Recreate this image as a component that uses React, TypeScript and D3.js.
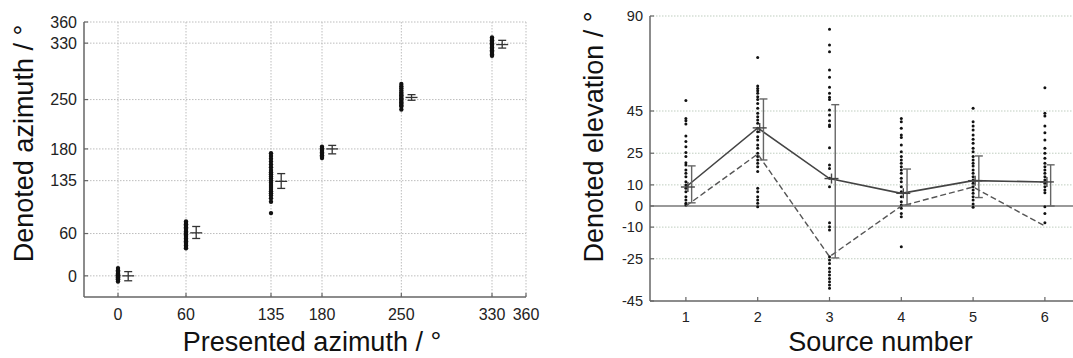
import React from "react";
import * as d3 from "d3";

// ---------- Left chart data (azimuth) ----------
const azTicks = [0, 60, 135, 180, 250, 330, 360];
const azPresented = [0, 60, 135, 180, 250, 330];
const azResponses: number[][] = [
  [11, 8, 6, 4, 3, 2, 1, 0, 0, -1, -2, -3, -4, -5, -6, -8],
  [77, 75, 73, 71, 69, 67, 65, 63, 61, 59, 57, 55, 53, 51, 49, 47, 45, 43, 41, 39],
  [174, 170, 166, 162, 158, 154, 150, 147, 144, 141, 138, 135, 132, 129, 126, 123, 120, 117, 114, 110, 105, 89],
  [183, 181, 179, 177, 175, 173, 171, 169, 167],
  [272, 269, 266, 263, 260, 258, 256, 254, 252, 250, 248, 246, 244, 242, 240, 236],
  [338, 336, 334, 332, 330, 328, 326, 324, 322, 320, 318, 316, 314, 312],
];
const azMean = [0, 61, 134, 180, 253, 328];
const azLo = [-7, 53, 124, 173, 249, 323];
const azHi = [6, 70, 145, 185, 257, 334];

// ---------- Right chart data (elevation) ----------
const sources = [1, 2, 3, 4, 5, 6];
const elTicks = [90, 45, 25, 10, 0, -10, -25, -45];
const elResponses: number[][] = [
  [50, 41.5, 40.4, 38.8, 33.2, 30.5, 28.1, 25.3, 23.4, 20.5, 19.4, 17, 15.5, 13.9, 11.5, 9.9, 8.4, 6.8, 4.4, 2.8, 1.3, 0.5],
  [70.4, 56.8, 55.7, 54.6, 53.4, 51.8, 50.5, 48.6, 46.3, 43.9, 42.3, 40.7, 39.2, 36.8, 35.2, 32.8, 31.3, 28.9, 27.3, 25, 23.4, 21.8, 20.2, 18.6, 16.3, 8.4, 6.8, 4.4, 2.8, 1.3, -0.3],
  [83.7, 76.3, 73.1, 64.4, 61, 56.2, 53.4, 51.5, 50.5, 45.5, 43.1, 40.4, 38.4, 37.6, 27.6, 19.4, 17.8, 13.1, 9.1, -7.9, -9.8, -11.4, -24, -25.6, -27.2, -29.5, -31.1, -32.7, -34.3, -35.9, -37.4, -39],
  [41.5, 39.9, 36.8, 33.6, 32.5, 28.9, 25.7, 23.4, 21.8, 20.2, 18.6, 17.1, 15.5, 13.1, 11.5, 9.1, 6.8, 4.4, 2, 0.5, -1.1, -3.5, -5.1, -19.3],
  [46.3, 39.9, 37.9, 36, 33.6, 31.6, 29.7, 27.3, 25.7, 23.4, 21.8, 20.2, 18.9, 17.1, 15.5, 13.9, 12.3, 10.8, 9.1, 7.6, 6, 4.4, 2.8, 0.9, -0.6],
  [56, 43.9, 42.6, 37.9, 34.7, 31.3, 27.3, 25, 22.6, 20.2, 18.6, 17.1, 15.5, 13.9, 12.3, 10.8, 9.1, 7.6, 6.3, -0.3, -3.5, -7.9],
];
const elMean = [9, 37, 13, 6, 12, 11.4];
const elMedian = [0, 24.6, -24, 0, 9, -9.5];
const elLo = [1.5, 21.8, -24.6, 0.5, 4, 0];
const elHi = [19, 50.7, 48, 17.5, 23.7, 19.5];

const FONT = "'Liberation Sans', Arial, sans-serif";

export default function App() {
  // Left scales
  const lx = d3.scaleLinear().domain([-30, 360]).range([84, 526]);
  const ly = d3.scaleLinear().domain([-30, 360]).range([297, 22]);
  // Right scales
  const rx = d3.scaleLinear().domain([0.5, 6.5]).range([650, 1080.8]);
  const ry = d3.scaleLinear().domain([-45, 90]).range([301, 16]);

  const azOff = 9; // degrees offset for error bars
  const elOff = 0.08;

  const meanLine = d3
    .line<number>()
    .x((_, i) => rx(sources[i]))
    .y((d) => ry(d));

  const gridL = "#bdbdbd";
  const gridR = "#bfcdbf";
  const axisC = "#666";

  return (
    <svg
      width={1073}
      height={358}
      style={{ position: "absolute", left: 0, top: 0, background: "#fff" }}
      fontFamily={FONT}
    >
      <rect x={0} y={0} width={1073} height={358} fill="#fff" />
      {/* ================= LEFT CHART ================= */}
      <g>
        {azTicks.map((t) => (
          <line
            key={"gx" + t}
            x1={lx(t)}
            x2={lx(t)}
            y1={ly(360)}
            y2={ly(-30)}
            stroke={gridL}
            strokeWidth={1}
            strokeDasharray="1.5,1.5"
          />
        ))}
        {azTicks.map((t) => (
          <line
            key={"gy" + t}
            x1={lx(-30)}
            x2={lx(360)}
            y1={ly(t)}
            y2={ly(t)}
            stroke={gridL}
            strokeWidth={1}
            strokeDasharray="1.5,1.5"
          />
        ))}
        {/* axes */}
        <line x1={lx(-30)} x2={lx(-30)} y1={ly(360)} y2={ly(-30)} stroke={axisC} strokeWidth={1.5} />
        <line x1={lx(-30)} x2={lx(360)} y1={ly(-30)} y2={ly(-30)} stroke={axisC} strokeWidth={1.5} />
        {azTicks.map((t) => (
          <g key={"tk" + t}>
            <line x1={lx(-30)} x2={lx(-30) + 4} y1={ly(t)} y2={ly(t)} stroke={axisC} strokeWidth={1.2} />
            <line x1={lx(t)} x2={lx(t)} y1={ly(-30)} y2={ly(-30) - 4} stroke={axisC} strokeWidth={1.2} />
            <text x={77} y={ly(t)} dy="0.36em" textAnchor="end" fontSize={16} fill="#222">
              {t}
            </text>
            <text x={lx(t)} y={320} textAnchor="middle" fontSize={16} fill="#222">
              {t}
            </text>
          </g>
        ))}
        {/* responses */}
        {azResponses.map((arr, i) =>
          arr.map((v, j) => (
            <circle key={`az${i}-${j}`} cx={lx(azPresented[i])} cy={ly(v)} r={2.2} fill="#111" />
          ))
        )}
        {/* mean + error bars */}
        {azPresented.map((p, i) => {
          const x = lx(p + azOff);
          return (
            <g key={"ae" + i} stroke="#333" strokeWidth={1.3}>
              <line x1={x} x2={x} y1={ly(azLo[i])} y2={ly(azHi[i])} />
              <line x1={x - 4} x2={x + 4} y1={ly(azLo[i])} y2={ly(azLo[i])} />
              <line x1={x - 4} x2={x + 4} y1={ly(azHi[i])} y2={ly(azHi[i])} />
              <line x1={x - 6} x2={x + 6} y1={ly(azMean[i])} y2={ly(azMean[i])} />
            </g>
          );
        })}
        <text
          transform={`translate(33,143.5) rotate(-90)`}
          textAnchor="middle"
          fontSize={27}
          fill="#111"
        >
          Denoted azimuth / °
        </text>
        <text x={312} y={351} textAnchor="middle" fontSize={27} fill="#111">
          Presented azimuth / °
        </text>
      </g>

      {/* ================= RIGHT CHART ================= */}
      <g>
        {elTicks
          .filter((t) => t !== 0 && t !== -45)
          .map((t) => (
            <line
              key={"rg" + t}
              x1={rx(0.5)}
              x2={1073}
              y1={ry(t)}
              y2={ry(t)}
              stroke={gridR}
              strokeWidth={1}
              strokeDasharray="1.5,1.5"
            />
          ))}
        {/* zero line */}
        <line x1={rx(0.5)} x2={1073} y1={ry(0)} y2={ry(0)} stroke="#777" strokeWidth={1.3} />
        {/* axes */}
        <line x1={rx(0.5)} x2={rx(0.5)} y1={ry(90)} y2={ry(-45)} stroke={axisC} strokeWidth={1.5} />
        <line x1={rx(0.5)} x2={1073} y1={ry(-45)} y2={ry(-45)} stroke={axisC} strokeWidth={1.5} />
        {elTicks.map((t) => (
          <g key={"rt" + t}>
            <line x1={rx(0.5)} x2={rx(0.5) + 4} y1={ry(t)} y2={ry(t)} stroke={axisC} strokeWidth={1.2} />
            <text x={643} y={ry(t)} dy="0.36em" textAnchor="end" fontSize={14.5} fill="#222">
              {t}
            </text>
          </g>
        ))}
        {sources.map((s) => (
          <g key={"rs" + s}>
            <line x1={rx(s)} x2={rx(s)} y1={ry(-45)} y2={ry(-45) - 4} stroke={axisC} strokeWidth={1.2} />
            <text x={rx(s)} y={321.5} textAnchor="middle" fontSize={14.5} fill="#222">
              {s}
            </text>
          </g>
        ))}
        {/* responses */}
        {elResponses.map((arr, i) =>
          arr.map((v, j) => (
            <circle key={`el${i}-${j}`} cx={rx(sources[i])} cy={ry(v)} r={1.5} fill="#111" />
          ))
        )}
        {/* median dashed line */}
        <path
          d={meanLine(elMedian) || ""}
          fill="none"
          stroke="#555"
          strokeWidth={1.4}
          strokeDasharray="6,3"
        />
        {/* mean solid line */}
        <path d={meanLine(elMean) || ""} fill="none" stroke="#444" strokeWidth={1.6} />
        {/* error bars + mean markers */}
        {sources.map((s, i) => {
          const x = rx(s + elOff);
          const xm = rx(s) + 2;
          return (
            <g key={"re" + i} stroke="#666" strokeWidth={1.4}>
              <line x1={x} x2={x} y1={ry(elLo[i])} y2={ry(elHi[i])} />
              <line x1={x - 4} x2={x + 4} y1={ry(elLo[i])} y2={ry(elLo[i])} />
              <line x1={x - 4} x2={x + 4} y1={ry(elHi[i])} y2={ry(elHi[i])} />
              <line x1={xm - 7} x2={xm + 7} y1={ry(elMean[i])} y2={ry(elMean[i])} stroke="#444" />
              <line x1={xm} x2={xm} y1={ry(elMean[i]) - 5} y2={ry(elMean[i]) + 5} stroke="#444" />
            </g>
          );
        })}
        <text
          transform={`translate(603,137) rotate(-90)`}
          textAnchor="middle"
          fontSize={27}
          fill="#111"
        >
          Denoted elevation / °
        </text>
        <text x={880.5} y={351} textAnchor="middle" fontSize={27} fill="#111">
          Source number
        </text>
      </g>
    </svg>
  );
}
